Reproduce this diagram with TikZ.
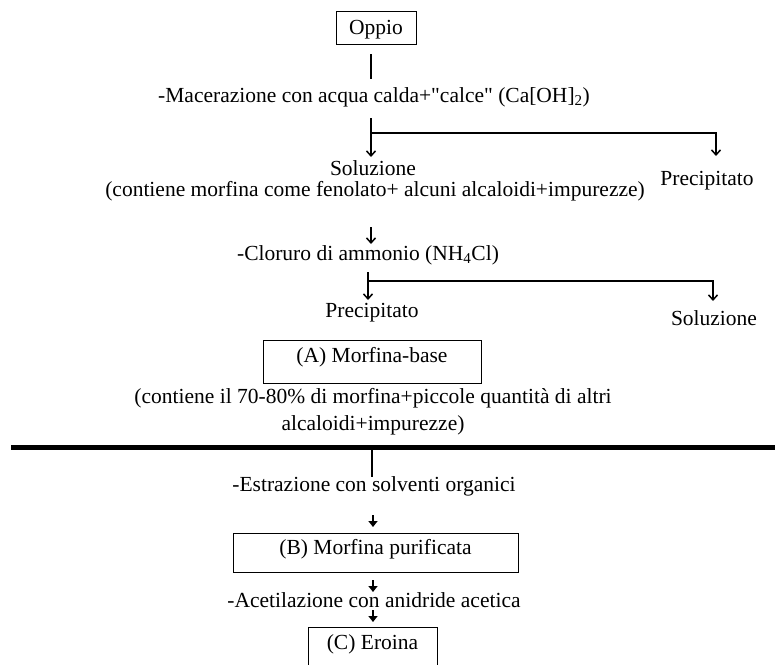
\documentclass[tikz,border=0pt]{standalone}
\usepackage{fontspec}
\setmainfont{Liberation Serif}
% plain family without TeX ligature mapping, so " stays a straight quote
\newfontfamily\flowfont{Liberation Serif}
\usetikzlibrary{arrows.meta}
\begin{document}
\begin{tikzpicture}[x=1pt,y=-1pt,
  txt/.style={inner sep=0pt, font=\flowfont\fontsize{21.5}{27}\selectfont, align=center},
  boxed/.style={txt, draw, line width=1pt},
  stem/.style={line width=1.8pt},
  flow/.style={line width=1.5pt, -{Straight Barb[length=5pt,width=9pt,line width=1.5pt]}},
  tick/.style={line width=1.8pt, -{Triangle[length=6pt,width=9pt]}},
  divider/.style={line width=5pt}]
\useasboundingbox (0,0) rectangle (775,664);
\clip (0,0) rectangle (775,664);

% upper part: from opium to morphine base
\node[boxed, minimum width=80pt, minimum height=33pt, text height=23pt, text depth=10pt] (oppio) at (376,27.5) {Oppio};
\node[txt] (mac) at (374,97) {-Macerazione con acqua calda+"calce" (Ca[OH]\textsubscript{2})};
\node[txt] (sol1) at (373,168) {Soluzione};
\node[txt] (sol1b) at (375,191) {(contiene morfina come fenolato+ alcuni alcaloidi+impurezze)};
\node[txt] (prec1) at (707,181) {Precipitato};
\node[txt] (clo) at (368,255) {-Cloruro di ammonio (NH\textsubscript{4}Cl)};
\node[txt] (prec2) at (372,313) {Precipitato};
\node[txt] (sol2) at (714,318) {Soluzione};
\node[boxed, minimum width=218pt, minimum height=43pt, text height=22pt, text depth=21pt] (boxA) at (372,361.5) {(A) Morfina-base};
\node[txt] (contA) at (373,411.5) {(contiene il 70-80\% di morfina+piccole quantità di altri\\alcaloidi+impurezze)};

% lower part: purification and acetylation
\node[txt] (est) at (374,486) {-Estrazione con solventi organici};
\node[boxed, minimum width=285pt, minimum height=39pt, text height=21pt, text depth=18pt] (boxB) at (375.5,552.5) {(B) Morfina purificata};
\node[txt] (acet) at (374,600) {-Acetilazione con anidride acetica};
\node[boxed, minimum width=129pt, minimum height=60pt, text height=22pt, text depth=38pt] (boxC) at (372.5,657) {(C) Eroina};

% connector end points
\coordinate (s1a) at (371,54);
\coordinate (s1b) at (371,79);
\coordinate (s2a) at (371,118);
\coordinate (s2b) at (371,157);
\coordinate (b2) at (371,133);
\coordinate (b2r) at (716,133);
\coordinate (b2e) at (716,156);
\coordinate (s3a) at (371,227);
\coordinate (s3b) at (371,244);
\coordinate (s4a) at (368,272);
\coordinate (s4b) at (368,300);
\coordinate (b4) at (368,281);
\coordinate (b4r) at (713,281);
\coordinate (b4e) at (713,301);
\coordinate (dl) at (11,447.5);
\coordinate (dr) at (775,447.5);
\coordinate (s5a) at (372,450);
\coordinate (s5b) at (372,477);
\coordinate (t1a) at (373,515);
\coordinate (t1b) at (373,527);
\coordinate (t2a) at (373,580);
\coordinate (t2b) at (373,592);
\coordinate (t3a) at (373,610);
\coordinate (t3b) at (373,622);

\draw[stem] (s1a) -- (s1b);
\draw[flow] (s2a) -- (s2b);
\draw[flow] (b2) -- (b2r) -- (b2e);
\draw[flow] (s3a) -- (s3b);
\draw[flow] (s4a) -- (s4b);
\draw[flow] (b4) -- (b4r) -- (b4e);
\draw[divider] (dl) -- (dr);
\draw[stem] (s5a) -- (s5b);
\draw[tick] (t1a) -- (t1b);
\draw[tick] (t2a) -- (t2b);
\draw[tick] (t3a) -- (t3b);
\end{tikzpicture}
\end{document}
